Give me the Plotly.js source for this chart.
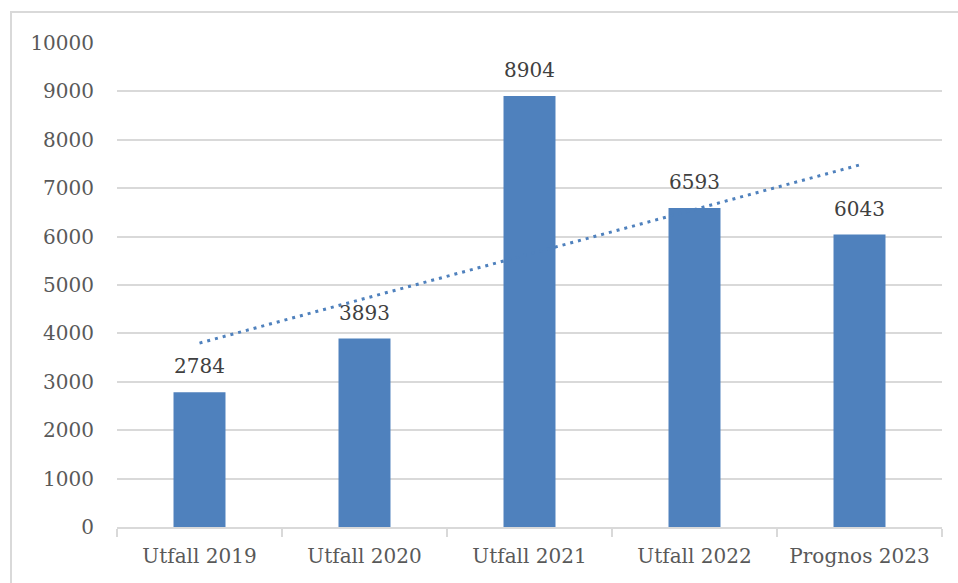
<!DOCTYPE html>
<html>
<head>
<meta charset="utf-8">
<script src="https://cdn.plot.ly/plotly-3.0.1.min.js"></script>
<style>
  html, body { margin: 0; padding: 0; background: #ffffff; overflow: hidden; }
  #chart { width: 958px; height: 583px; position: absolute; left: 0; top: 0; }
  #frame { position: absolute; left: 10px; top: 11px; width: 980px; height: 600px;
           border: 2px solid #d9d9d9; pointer-events: none; box-sizing: border-box; }
</style>
</head>
<body>
<div id="chart"></div>
<div id="frame"></div>
<script>
const categories = ["Utfall 2019", "Utfall 2020", "Utfall 2021", "Utfall 2022", "Prognos 2023"];
const values = [2784, 3893, 8904, 6593, 6043];
const trendCategories = ["Utfall 2019", "Prognos 2023"];
const trendValues = [3800, 7480];
const yTicks = [0, 1000, 2000, 3000, 4000, 5000, 6000, 7000, 8000, 9000, 10000];

const font = "DejaVu Serif, serif";
const barColor = "#4f81bd";

const bars = {
  type: "bar",
  x: categories,
  y: values,
  marker: { color: barColor, line: { width: 0 } },
  hoverinfo: "skip",
  showlegend: false
};

const trend = {
  type: "scatter",
  mode: "lines",
  x: trendCategories,
  y: trendValues,
  line: { color: barColor, width: 3, dash: "3px,5px" },
  hoverinfo: "skip",
  showlegend: false
};

const annotations = categories.map((c, i) => ({
  x: c, y: values[i], xref: "x", yref: "y",
  text: String(values[i]),
  showarrow: false,
  yanchor: "bottom",
  yshift: 12,
  font: { family: font, size: 20, color: "#404040" }
}));

const layout = {
  width: 958, height: 583,
  margin: { l: 117, r: 16, t: 43, b: 56 },
  paper_bgcolor: "#ffffff",
  plot_bgcolor: "#ffffff",
  bargap: 0.685,
  font: { family: font, size: 20, color: "#595959" },
  xaxis: {
    type: "category",
    showline: true, linecolor: "#d9d9d9", linewidth: 2,
    ticks: "outside", tickson: "boundaries", ticklen: 8, tickwidth: 2, tickcolor: "#d9d9d9",
    showgrid: false,
    tickfont: { family: font, size: 20, color: "#595959" },
    ticklabelstandoff: 10
  },
  yaxis: {
    range: [0, 10000],
    tickvals: yTicks,
    ticktext: yTicks.map(String),
    showgrid: true, gridcolor: "#d9d9d9", gridwidth: 2,
    zeroline: false, showline: false, ticks: "",
    tickfont: { family: font, size: 20, color: "#595959" },
    ticklabelstandoff: 22
  },
  annotations: annotations
};

Plotly.newPlot("chart", [bars, trend], layout, { staticPlot: true, displayModeBar: false });
</script>
</body>
</html>
